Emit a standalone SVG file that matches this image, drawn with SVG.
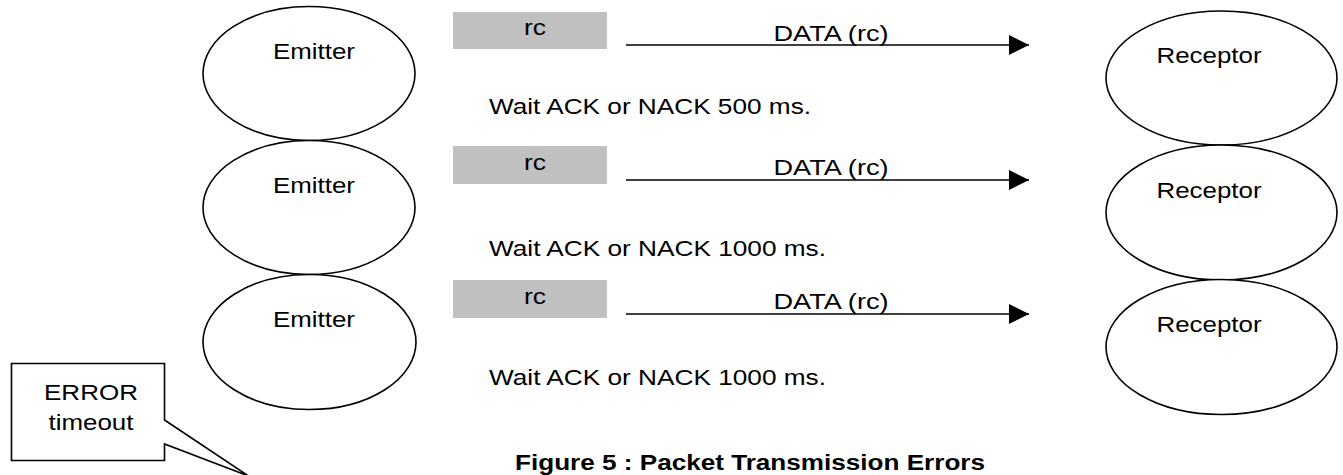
<svg xmlns="http://www.w3.org/2000/svg" width="1343" height="475" viewBox="0 0 1343 475">
<style>
.node{fill:#fff;stroke:#000;stroke-width:1.6}
.t{font-family:"Liberation Sans",Arial,sans-serif;font-size:22.5px;fill:#000}
.tb{font-family:"Liberation Sans",Arial,sans-serif;font-size:22.5px;font-weight:bold;fill:#000}
.pkt{fill:#c0c0c0;stroke:none}
.conn{stroke:#000;stroke-width:1.6;fill:none}
</style>
<defs>
<marker id="ah" markerUnits="userSpaceOnUse" markerWidth="22" markerHeight="22" refX="20" refY="10" orient="auto">
<path d="M0,0 L20,10 L0,20 Z" fill="#000"/>
</marker>
</defs>
<rect width="1343" height="475" fill="#fff"/>
<g id="emitter1"><ellipse class="node" cx="309" cy="73.5" rx="106" ry="67"/><text class="t" x="314" y="59" text-anchor="middle" textLength="82" lengthAdjust="spacingAndGlyphs">Emitter</text></g>
<g id="emitter2"><ellipse class="node" cx="309" cy="207.5" rx="106" ry="67"/><text class="t" x="314" y="193" text-anchor="middle" textLength="82" lengthAdjust="spacingAndGlyphs">Emitter</text></g>
<g id="emitter3"><ellipse class="node" cx="309.5" cy="342" rx="106.5" ry="67.5"/><text class="t" x="314" y="327" text-anchor="middle" textLength="82" lengthAdjust="spacingAndGlyphs">Emitter</text></g>
<g id="receptor1"><ellipse class="node" cx="1221.5" cy="78" rx="115.5" ry="67"/><text class="t" x="1209" y="63" text-anchor="middle" textLength="105" lengthAdjust="spacingAndGlyphs">Receptor</text></g>
<g id="receptor2"><ellipse class="node" cx="1221.5" cy="212.5" rx="115.5" ry="67.5"/><text class="t" x="1209" y="198" text-anchor="middle" textLength="105" lengthAdjust="spacingAndGlyphs">Receptor</text></g>
<g id="receptor3"><ellipse class="node" cx="1221.5" cy="347" rx="115.5" ry="67.5"/><text class="t" x="1209" y="332" text-anchor="middle" textLength="105" lengthAdjust="spacingAndGlyphs">Receptor</text></g>
<g id="packet1"><rect class="pkt" x="453" y="12" width="154" height="37"/><text class="t" x="535" y="35" text-anchor="middle" textLength="22" lengthAdjust="spacingAndGlyphs">rc</text></g>
<g id="packet2"><rect class="pkt" x="453" y="146" width="154" height="38"/><text class="t" x="535" y="170" text-anchor="middle" textLength="22" lengthAdjust="spacingAndGlyphs">rc</text></g>
<g id="packet3"><rect class="pkt" x="453" y="280" width="154" height="38"/><text class="t" x="535" y="304" text-anchor="middle" textLength="22" lengthAdjust="spacingAndGlyphs">rc</text></g>
<g id="connectors">
<line class="conn" x1="626" y1="45" x2="1029" y2="45" marker-end="url(#ah)"/>
<line class="conn" x1="626" y1="180" x2="1029" y2="180" marker-end="url(#ah)"/>
<line class="conn" x1="626" y1="314" x2="1029" y2="314" marker-end="url(#ah)"/>
<text class="t" x="831" y="41" text-anchor="middle" textLength="115" lengthAdjust="spacingAndGlyphs">DATA (rc)</text>
<text class="t" x="831" y="175" text-anchor="middle" textLength="115" lengthAdjust="spacingAndGlyphs">DATA (rc)</text>
<text class="t" x="831" y="309" text-anchor="middle" textLength="115" lengthAdjust="spacingAndGlyphs">DATA (rc)</text>
</g>
<g id="waits">
<text class="t" x="489" y="114" textLength="322" lengthAdjust="spacingAndGlyphs">Wait ACK or NACK 500 ms.</text>
<text class="t" x="489" y="256" textLength="337" lengthAdjust="spacingAndGlyphs">Wait ACK or NACK 1000 ms.</text>
<text class="t" x="489" y="385" textLength="337" lengthAdjust="spacingAndGlyphs">Wait ACK or NACK 1000 ms.</text>
</g>
<g id="callout">
<path class="conn" d="M11.5,363.5 H164.5 V420 L248.5,476 L164.5,444 V460.5 H11.5 Z" fill="#fff"/>
<text class="t" x="91" y="400" text-anchor="middle" textLength="94" lengthAdjust="spacingAndGlyphs">ERROR</text>
<text class="t" x="91" y="430" text-anchor="middle" textLength="85" lengthAdjust="spacingAndGlyphs">timeout</text>
</g>
<text class="tb" x="515" y="470" textLength="470" lengthAdjust="spacingAndGlyphs">Figure 5 : Packet Transmission Errors</text>
</svg>
